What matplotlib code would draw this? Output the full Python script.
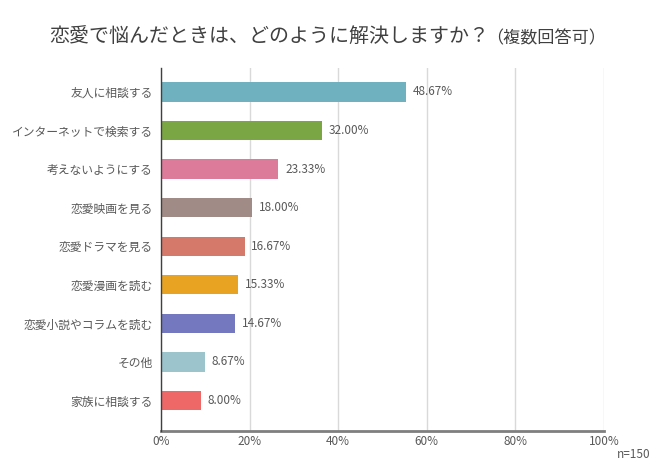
import matplotlib
matplotlib.use("Agg")
from matplotlib import pyplot as plt

plt.rcParams['font.family'] = ['Noto Sans CJK JP', 'DejaVu Sans']

categories = ["友人に相談する", "インターネットで検索する", "考えないようにする", "恋愛映画を見る",
              "恋愛ドラマを見る", "恋愛漫画を読む", "恋愛小説やコラムを読む", "その他", "家族に相談する"]
# bar lengths as drawn on the axis (%), labels as printed
bar_lengths = [55.3, 36.4, 26.5, 20.5, 18.9, 17.4, 16.7, 9.9, 9.1]
value_labels = ["48.67%", "32.00%", "23.33%", "18.00%", "16.67%", "15.33%", "14.67%", "8.67%", "8.00%"]
colors = ["#6fb1be", "#7ba644", "#dd7b9b", "#a18b86", "#d57a6b", "#e9a323", "#7479bf", "#9bc4cc", "#ee6868"]
x_ticks = [0, 20, 40, 60, 80, 100]
x_tick_labels = ["0%", "20%", "40%", "60%", "80%", "100%"]

fig = plt.figure(figsize=(6.58, 4.66), dpi=100)
ax = fig.add_axes([161 / 658, 1 - 431 / 466, (604 - 161) / 658, (431 - 68) / 466])

ypos = list(range(len(categories)))
ax.barh(ypos, bar_lengths, height=0.5, color=colors, zorder=3)
for y, w, lab in zip(ypos, bar_lengths, value_labels):
    ax.text(w + 1.5, y, lab, va="center", ha="left", fontsize=8.5, color="#595959")

ax.set_xlim(0, 100)
ax.set_ylim(8.79, -0.62)
ax.set_yticks(ypos)
ax.set_yticklabels(categories, fontsize=8.5, color="#595959")
ax.set_xticks(x_ticks)
ax.set_xticklabels(x_tick_labels, fontsize=8.5, color="#595959")
ax.tick_params(length=0, pad=6)
ax.tick_params(axis="x", pad=3)

ax.grid(axis="x", color="#d9d9d9", linewidth=1, zorder=0)
for s in ["top", "right"]:
    ax.spines[s].set_visible(False)
ax.spines["left"].set_color("#404040")
ax.spines["left"].set_linewidth(1)
ax.spines["bottom"].set_color("#7f7f7f")
ax.spines["bottom"].set_linewidth(2)
ax.spines["left"].set_zorder(4)

fig.text(489 / 658, 1 - 37 / 466, "恋愛で悩んだときは、どのように解決しますか？", ha="right", va="center",
         fontsize=14.4, color="#404040")
fig.text(486 / 658, 1 - 38 / 466, "（複数回答可）", ha="left", va="center", fontsize=12.3, color="#404040")
fig.text(650 / 658, 1 - 455 / 466, "n=150", ha="right", va="center", fontsize=8.5, color="#595959")

fig.savefig("out.png", dpi=100)
